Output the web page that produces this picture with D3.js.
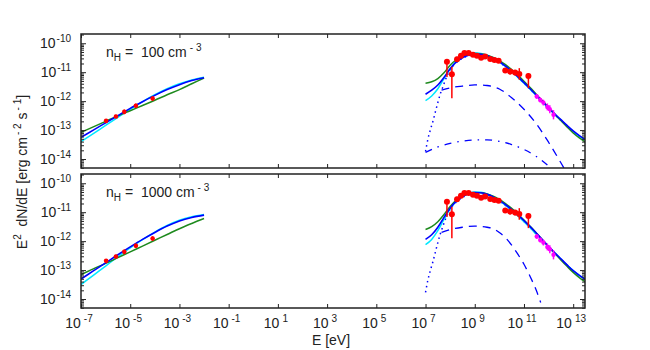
<!DOCTYPE html>
<html>
<head>
<meta charset="utf-8">
<script src="https://cdn.jsdelivr.net/npm/d3@7"></script>
<style>
  body { margin: 0; background: #fff; }
  text { font-family: "Liberation Sans", Arial, sans-serif; fill: #222; white-space: pre; }
</style>
</head>
<body>
<div id="vis"></div>
<script>
// frame size and panel layout
const FRAME_WIDTH = 650;
const FRAME_HEIGHT = 350;
const PLOT_LEFT = 81;
const PLOT_RIGHT = 585;
const PANELS = [{top: 34, bottom: 168, label: '100'}, {top: 174, bottom: 308, label: '1000'}];

// tick values (log10)
const xTickExp = [-7, -5, -3, -1, 1, 3, 5, 7, 9, 11, 13];
const yTickExp = [-14, -13, -12, -11, -10];

// model curves, radio band (log10 E, log10 E^2 dN/dE)
const radioLogE = [-7, -6.5, -6, -5.5, -5, -4.5, -4, -3.5, -3, -2.5, -2];
const radioGreenTop = [-13.08, -12.89, -12.70, -12.51, -12.33, -12.15, -11.97, -11.78, -11.60, -11.40, -11.20];
const radioBlueTop = [-13.25, -13.00, -12.75, -12.50, -12.25, -12.02, -11.80, -11.60, -11.43, -11.29, -11.19];
const radioCyanTop = [-13.40, -13.12, -12.84, -12.56, -12.28, -12.02, -11.78, -11.57, -11.40, -11.27, -11.17];
const radioGreenBot = [-13.16, -12.96, -12.77, -12.57, -12.37, -12.17, -11.97, -11.77, -11.57, -11.39, -11.22];
const radioBlueBot = [-13.31, -13.03, -12.75, -12.47, -12.20, -11.94, -11.70, -11.48, -11.30, -11.18, -11.10];
const radioCyanBot = [-13.50, -13.18, -12.86, -12.54, -12.23, -11.95, -11.69, -11.46, -11.28, -11.16, -11.08];

// model curves, gamma band
const gammaLogE = [7, 7.25, 7.5, 7.75, 8, 8.25, 8.5, 8.75, 9, 9.25, 9.5, 9.75, 10, 10.25, 10.5,
  10.75, 11, 11.25, 11.5, 11.75, 12, 12.25, 12.5, 12.75, 13, 13.25, 13.5];
const gammaBlueTop = [-11.76, -11.62, -11.44, -11.18, -10.88, -10.64, -10.50, -10.41, -10.37, -10.38, -10.43, -10.52, -10.64, -10.79,
  -10.96, -11.15, -11.36, -11.57, -11.79, -12.01, -12.23, -12.44, -12.64, -12.84, -13.03, -13.19, -13.33];
const gammaGreenTop = [-11.38, -11.33, -11.22, -11.02, -10.76, -10.57, -10.46, -10.40, -10.37, -10.37, -10.41, -10.49, -10.60, -10.74,
  -10.91, -11.10, -11.31, -11.53, -11.76, -11.99, -12.22, -12.45, -12.67, -12.89, -13.10, -13.27, -13.42];
const gammaCyanTop = [-11.98, -11.82, -11.57, -11.22, -10.88, -10.62, -10.46, -10.37, -10.33, -10.35, -10.41, -10.51, -10.64, -10.80,
  -10.98, -11.17, -11.38, -11.59, -11.81, -12.03, -12.25, -12.46, -12.66, -12.86, -13.05, -13.21, -13.35];
const gammaBlueBot = [-11.94, -11.78, -11.52, -11.18, -10.86, -10.62, -10.46, -10.36, -10.32, -10.33, -10.38, -10.47, -10.59, -10.74,
  -10.91, -11.09, -11.29, -11.50, -11.72, -11.95, -12.18, -12.40, -12.61, -12.82, -13.02, -13.18, -13.33];
const gammaGreenBot = [-11.60, -11.50, -11.33, -11.08, -10.80, -10.58, -10.44, -10.36, -10.33, -10.33, -10.37, -10.45, -10.56, -10.70,
  -10.87, -11.06, -11.27, -11.49, -11.72, -11.95, -12.19, -12.42, -12.65, -12.87, -13.08, -13.26, -13.41];
const gammaCyanBot = [-12.12, -11.94, -11.64, -11.25, -10.88, -10.62, -10.45, -10.35, -10.30, -10.31, -10.37, -10.47, -10.60, -10.76,
  -10.94, -11.13, -11.33, -11.54, -11.76, -11.98, -12.20, -12.42, -12.62, -12.83, -13.02, -13.18, -13.33];

// pion component (dotted)
const pionLogE = [7, 7.1, 7.2, 7.3, 7.4, 7.5, 7.6, 7.7, 7.8, 7.9, 8, 8.25, 8.5, 8.75, 9, 9.25, 9.5, 9.75, 10,
  10.25, 10.5, 10.75, 11, 11.25, 11.5, 11.75, 12, 12.25, 12.5, 12.75, 13, 13.25, 13.5];
const pionTop = [-13.74, -13.30, -12.98, -12.70, -12.37, -12.05, -11.75, -11.52, -11.28, -11.08, -10.92, -10.67, -10.52, -10.43,
  -10.39, -10.40, -10.45, -10.54, -10.66, -10.81, -10.98, -11.17, -11.38, -11.59, -11.81, -12.03, -12.25, -12.46, -12.66,
  -12.86, -13.05, -13.21, -13.35];
const pionBot = [-13.77, -13.33, -13.00, -12.71, -12.38, -12.05, -11.75, -11.50, -11.26, -11.06, -10.90, -10.65, -10.49, -10.39,
  -10.35, -10.36, -10.41, -10.50, -10.62, -10.77, -10.94, -11.12, -11.32, -11.53, -11.75, -11.97, -12.20, -12.42, -12.62,
  -12.83, -13.03, -13.19, -13.34];

// bremsstrahlung component (dashed)
const bremLogETop = [7.65, 8, 8.5, 9, 9.5, 10, 10.5, 11, 11.5, 12, 12.5, 12.75];
const bremTop = [-11.62, -11.54, -11.48, -11.44, -11.46, -11.58, -11.88, -12.28, -12.78, -13.42, -14.13, -14.50];
const bremLogEBot = [7.65, 8, 8.5, 9, 9.5, 9.75, 10, 10.25, 10.5, 10.75, 11, 11.25, 11.5, 11.68];
const bremBot = [-11.70, -11.60, -11.52, -11.48, -11.52, -11.57, -11.70, -11.88, -12.14, -12.45, -12.80, -13.22, -13.70, -14.12];

// inverse Compton component (dash-dot, top panel only)
const icLogE = [7, 7.5, 8, 8.5, 9, 9.5, 10, 10.5, 11, 11.5, 12, 12.2];
const icTop = [-13.77, -13.58, -13.46, -13.38, -13.34, -13.34, -13.39, -13.50, -13.67, -13.91, -14.24, -14.40];

// measured points
const radioE = [-5.98, -5.58, -5.24, -4.77, -4.09];
const radioF = [-12.68, -12.53, -12.37, -12.16, -11.91];
const radioErr = [0.06, 0.06, 0.08, 0.08, 0.08];

const fermiE = [7.87, 8.07, 8.28, 8.44, 8.58, 8.75, 8.93, 9.09, 9.26, 9.42, 9.63, 9.80, 9.97, 10.24, 10.44, 10.64, 10.81, 11.18];
const fermiF = [-10.64, -11.07, -10.55, -10.43, -10.34, -10.34, -10.40, -10.43, -10.50, -10.46, -10.54, -10.58, -10.60,
  -10.94, -10.98, -11.01, -11.06, -11.13];
const fermiLo = [0.53, 0.83, 0.08, 0.06, 0.05, 0.05, 0.05, 0.05, 0.05, 0.05, 0.05, 0.06, 0.06, 0.08, 0.10, 0.10, 0.20, 0.42];
const fermiHi = [0.08, 0.26, 0.08, 0.06, 0.05, 0.05, 0.05, 0.05, 0.05, 0.05, 0.05, 0.06, 0.06, 0.08, 0.08, 0.08, 0.20, 0.10];

const tevE = [11.52, 11.66, 11.79, 11.95, 12.05, 12.2];
const tevF = [-11.84, -11.96, -12.05, -12.20, -12.28, -12.47];
const tevErr = [0.08, 0.09, 0.10, 0.12, 0.14, 0.16];

const COLORS = {green: '#1e8a1e', blue: '#0000ff', cyan: '#00e8ff', red: '#ff0000', magenta: '#ff00ff'};

const svg = d3.select('#vis')
  .append('svg')
    .attr('width', FRAME_WIDTH)
    .attr('height', FRAME_HEIGHT);

const xscale = d3.scaleLog()
  .domain([1e-7, Math.pow(10, 13.48)])
  .range([PLOT_LEFT, PLOT_RIGHT]);

const zip = (xs, ys) => xs.map((v, i) => [v, ys[i]]);

const curves = [
  {top: [radioCyanTop, radioGreenTop, radioBlueTop], bot: [radioCyanBot, radioGreenBot, radioBlueBot], e: radioLogE},
  {top: [gammaCyanTop, gammaGreenTop, gammaBlueTop], bot: [gammaCyanBot, gammaGreenBot, gammaBlueBot], e: gammaLogE}
];
const curveColors = [COLORS.cyan, COLORS.green, COLORS.blue];

PANELS.forEach((p, pi) => {
  const yscale = d3.scaleLog()
    .domain([Math.pow(10, -14.31), Math.pow(10, -9.68)])
    .range([p.bottom, p.top]);

  const line = d3.line()
    .x((d) => xscale(Math.pow(10, d[0])))
    .y((d) => yscale(Math.pow(10, d[1])))
    .curve(d3.curveMonotoneX);

  const clipId = 'clip' + pi;
  svg.append('clipPath').attr('id', clipId)
    .append('rect')
      .attr('x', PLOT_LEFT).attr('y', p.top)
      .attr('width', PLOT_RIGHT - PLOT_LEFT).attr('height', p.bottom - p.top);

  const g = svg.append('g').attr('clip-path', 'url(#' + clipId + ')');

  // component lines
  const isTop = pi === 0;
  g.append('path')
    .attr('d', line(zip(pionLogE, isTop ? pionTop : pionBot)))
    .attr('fill', 'none').attr('stroke', COLORS.blue).attr('stroke-width', 1.5)
    .attr('stroke-dasharray', '1.5,3.5');
  g.append('path')
    .attr('d', isTop ? line(zip(bremLogETop, bremTop)) : line(zip(bremLogEBot, bremBot)))
    .attr('fill', 'none').attr('stroke', COLORS.blue).attr('stroke-width', 1.3)
    .attr('stroke-dasharray', '8,6');
  if (isTop) {
    g.append('path')
      .attr('d', line(zip(icLogE, icTop)))
      .attr('fill', 'none').attr('stroke', COLORS.blue).attr('stroke-width', 1.3)
      .attr('stroke-dasharray', '7,6,1.5,6');
  }

  // total model curves
  curves.forEach((c) => {
    const sets = isTop ? c.top : c.bot;
    sets.forEach((vals, k) => {
      g.append('path')
        .attr('d', line(zip(c.e, vals)))
        .attr('fill', 'none')
        .attr('stroke', curveColors[k])
        .attr('stroke-width', k === 2 ? 1.6 : 1.5);
    });
  });

  // error bars and points
  const drawPoints = (es, fs, lo, hi, color, r) => {
    es.forEach((e, i) => {
      const cx = xscale(Math.pow(10, e));
      g.append('line')
        .attr('x1', cx).attr('x2', cx)
        .attr('y1', yscale(Math.pow(10, fs[i] - lo[i])))
        .attr('y2', yscale(Math.pow(10, fs[i] + hi[i])))
        .attr('stroke', color).attr('stroke-width', 1.5);
      g.append('circle')
        .attr('cx', cx).attr('cy', yscale(Math.pow(10, fs[i])))
        .attr('r', r).attr('fill', color);
    });
  };
  drawPoints(radioE, radioF, radioErr, radioErr, COLORS.red, 2.3);
  drawPoints(tevE, tevF, tevErr, tevErr, COLORS.magenta, 2.2);
  drawPoints(fermiE, fermiF, fermiLo, fermiHi, COLORS.red, 3);

  // axes (ticks inward, mirrored)
  const xVals = xTickExp.map((d) => Math.pow(10, d));
  const yVals = yTickExp.map((d) => Math.pow(10, d));
  const yMinor = [];
  for (let dec = -15; dec <= -10; dec++) {
    for (let m = 2; m <= 9; m++) {
      const v = m * Math.pow(10, dec);
      if (v > yscale.domain()[0] && v < yscale.domain()[1]) yMinor.push(v);
    }
  }

  const addAxis = (axis, tx, ty) => {
    const a = svg.append('g')
      .attr('transform', 'translate(' + tx + ',' + ty + ')')
      .call(axis);
    a.select('.domain').remove();
    a.selectAll('line').attr('stroke', '#222');
    return a;
  };

  addAxis(d3.axisBottom(xscale).tickValues(xVals).tickSize(-4).tickFormat(''), 0, p.bottom);
  addAxis(d3.axisTop(xscale).tickValues(xVals).tickSize(-4).tickFormat(''), 0, p.top);
  addAxis(d3.axisLeft(yscale).tickValues(yVals).tickSize(-5).tickFormat(''), PLOT_LEFT, 0);
  addAxis(d3.axisRight(yscale).tickValues(yVals).tickSize(-5).tickFormat(''), PLOT_RIGHT, 0);
  addAxis(d3.axisLeft(yscale).tickValues(yMinor).tickSize(-3).tickFormat(''), PLOT_LEFT, 0);
  addAxis(d3.axisRight(yscale).tickValues(yMinor).tickSize(-3).tickFormat(''), PLOT_RIGHT, 0);

  // frame
  svg.append('rect')
    .attr('x', PLOT_LEFT).attr('y', p.top)
    .attr('width', PLOT_RIGHT - PLOT_LEFT).attr('height', p.bottom - p.top)
    .attr('fill', 'none').attr('stroke', '#222').attr('stroke-width', 1.5);

  // y tick labels
  yTickExp.forEach((ex) => {
    const t = svg.append('text')
      .attr('x', 71).attr('y', yscale(Math.pow(10, ex)) + 5)
      .attr('text-anchor', 'end')
      .attr('font-size', 14);
    t.append('tspan').text('10');
    t.append('tspan').attr('dx', 1).attr('dy', -6).attr('font-size', 10).text('-' + (-ex));
  });

  // density label
  const nl = svg.append('text')
    .attr('x', 106).attr('y', p.top + 23)
    .attr('font-size', 14);
  nl.append('tspan').text('n');
  nl.append('tspan').attr('dy', 4).attr('font-size', 10).text('H');
  nl.append('tspan').attr('dy', -4).text(' =  ' + p.label + ' cm');
  nl.append('tspan').attr('dx', 3).attr('dy', -6).attr('font-size', 10).text('- 3');

  // x tick labels on the lower panel
  if (!isTop) {
    xTickExp.forEach((ex) => {
      const t = svg.append('text')
        .attr('x', xscale(Math.pow(10, ex)) - 2).attr('y', 328)
        .attr('text-anchor', 'middle')
        .attr('font-size', 14);
      t.append('tspan').text('10');
      t.append('tspan').attr('dx', 3).attr('dy', -6).attr('font-size', 10).text(ex < 0 ? '-' + (-ex) : ex);
    });
  }
});

// axis titles
svg.append('text')
  .attr('x', 331).attr('y', 345)
  .attr('text-anchor', 'middle')
  .attr('font-size', 14)
  .text('E [eV]');

const yl = svg.append('text')
  .attr('transform', 'translate(27,172) rotate(-90)')
  .attr('text-anchor', 'middle')
  .attr('font-size', 14);
yl.append('tspan').text('E');
yl.append('tspan').attr('dy', -6).attr('font-size', 10).text('2');
yl.append('tspan').attr('dy', 6).text('  dN/dE [erg cm');
yl.append('tspan').attr('dx', 2).attr('dy', -6).attr('font-size', 10).text('- 2');
yl.append('tspan').attr('dy', 6).text(' s');
yl.append('tspan').attr('dx', 2).attr('dy', -6).attr('font-size', 10).text('- 1');
yl.append('tspan').attr('dy', 6).text(']');
</script>
</body>
</html>
